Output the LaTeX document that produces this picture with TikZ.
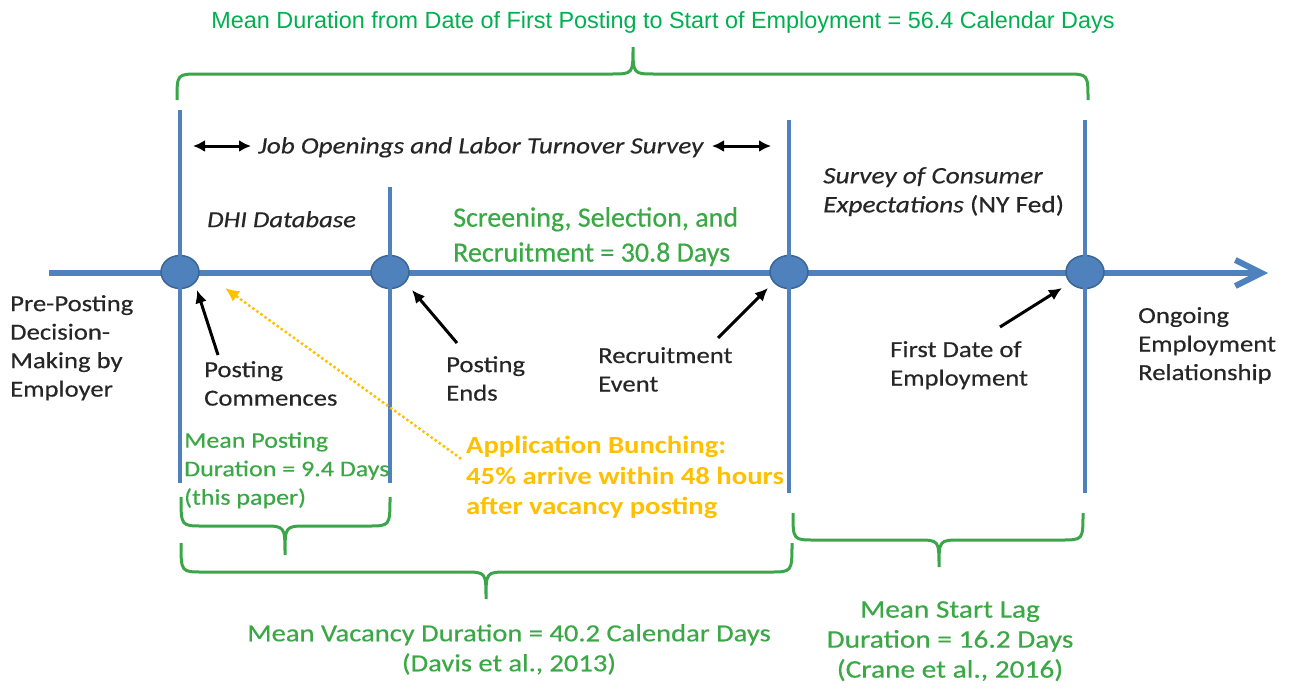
\documentclass[tikz,border=0pt]{standalone}
\usepackage{fontspec}
\setmainfont{Carlito}[FakeStretch=1.16,UprightFeatures={FakeBold=0.35},ItalicFeatures={FakeBold=0.35}]
\newfontfamily\plainfont{Carlito}[UprightFeatures={FakeBold=0.35}]
\newfontfamily\titlefont{Liberation Sans}
\usetikzlibrary{arrows.meta,shapes.geometric}
\definecolor{tlblue}{HTML}{4F81BD}
\definecolor{tldark}{HTML}{3A6597}
\definecolor{ttlgreen}{HTML}{00B050}
\definecolor{gtext}{HTML}{3AA844}
\definecolor{bgreen}{HTML}{3BA54A}
\definecolor{gold}{HTML}{FFC000}
\definecolor{txtgray}{HTML}{262626}
\newcommand\fs[2]{\fontsize{#1}{#2}\selectfont}
\newcommand\gbrace[6]{\draw[brace] (#1,#4) .. controls (#1,#5) .. ({#1+22},#5) -- ({#3-22},#5) .. controls (#3,#5) .. (#3,#6) .. controls (#3,#5) .. ({#3+22},#5) -- ({#2-22},#5) .. controls (#2,#5) .. (#2,#4);}
\begin{document}
\begin{tikzpicture}[x=1pt,y=-1pt,
  blueline/.style={draw=tlblue,line width=6pt},
  vline/.style={draw=tlblue,line width=4pt},
  dot/.style={ellipse,minimum width=38pt,minimum height=33pt,inner sep=0,fill=tlblue,draw=tldark,line width=1.5pt},
  brace/.style={draw=bgreen,line width=3pt},
  lbl/.style={inner sep=0,anchor=north west,align=left,text=txtgray,font={\fs{23}{28.5}}},
  glbl/.style={lbl,text=gtext},
  blkarrow/.style={draw=black,line width=3pt,-{Latex[length=13pt,width=12pt]}},
  dblarrow/.style={draw=black,line width=3pt,{Latex[length=12pt,width=12pt]}-{Latex[length=12pt,width=12pt]}},
  yarrow/.style={draw=gold,line width=3.5pt,line cap=round,dash pattern=on 0pt off 5pt,-{Latex[length=14pt,width=13pt]}}]
\useasboundingbox[fill=white] (0,0) rectangle (1289,691);

% title and top brace
\node[inner sep=0,anchor=north,text=ttlgreen,font={\titlefont\fs{23.4}{27}}] (title) at (663,11) {Mean Duration from Date of First Posting to Start of Employment = 56.4 Calendar Days};
\gbrace{177}{1088}{633}{100}{74}{47}

% timeline
\draw[blueline,-{Straight Barb[length=26pt,width=26pt]}] (49,273) -- (1268,273);
\node[dot] (c1) at (180,272) {};
\node[dot] (c2) at (390,272) {};
\node[dot] (c3) at (789,272) {};
\node[dot] (c4) at (1085,272) {};
\draw[vline] (180,110) -- (180,483);
\draw[vline] (390,187) -- (390,483);
\draw[vline] (789,120) -- (789,493);
\draw[vline] (1085,120) -- (1085,493);

% JOLTS
\node[lbl,font={\fs{23.4}{28.5}\itshape}] (jolts) at (258,137) {Job Openings and Labor Turnover Survey};
\coordinate (jl1) at (193,146); \coordinate (jl2) at (251,146);
\coordinate (jr1) at (712,146); \coordinate (jr2) at (771,146);
\draw[dblarrow] (jl1) -- (jl2);
\draw[dblarrow] (jr1) -- (jr2);

\node[lbl,font={\fs{23}{28.5}\itshape}] (dhi) at (207,211) {DHI Database};
\node[glbl,font={\plainfont\fs{28}{35}}] (screen) at (453,207) {Screening, Selection, and\\Recruitment = 30.8 Days};
\node[lbl,font={\fs{23.6}{29}}] (sce) at (823,167) {\textit{Survey of Consumer}\\\textit{Expectations} (NY Fed)};

% labels below the line
\node[lbl] (pre) at (10,295) {Pre-Posting\\Decision-\\Making by\\Employer};
\node[lbl] (pc) at (204,361) {Posting\\Commences};
\node[lbl] (pe) at (446,356) {Posting\\Ends};
\node[lbl] (re) at (598,347) {Recruitment\\Event};
\node[lbl] (fd) at (890,341) {First Date of\\Employment};
\node[lbl] (og) at (1138,307) {Ongoing\\Employment\\Relationship};

\coordinate (pcT) at (218,355); \coordinate (pcH) at (197,290);
\coordinate (peT) at (457,343); \coordinate (peH) at (412,290);
\coordinate (reT) at (718,338); \coordinate (reH) at (768,288);
\coordinate (fdT) at (1000,327); \coordinate (fdH) at (1062,288);
\draw[blkarrow] (pcT) -- (pcH);
\draw[blkarrow] (peT) -- (peH);
\draw[blkarrow] (reT) -- (reH);
\draw[blkarrow] (fdT) -- (fdH);

\node[glbl,font={\fs{22.4}{28.5}}] (mp) at (184,432) {Mean Posting\\Duration = 9.4 Days\\(this paper)};

\node[lbl,text=gold,font={\fs{24.7}{30.5}\bfseries}] (ab) at (466,436) {Application Bunching:\\45\% arrive within 48 hours\\after vacancy posting};
\coordinate (abT) at (460,458); \coordinate (abH) at (225,288);
\draw[yarrow] (abT) -- (abH);

% lower braces
\gbrace{181}{390}{285}{497}{526}{555}
\gbrace{181}{792}{486}{543}{572}{599}
\gbrace{793}{1083}{939}{513}{540}{567}

\node[glbl,anchor=north,align=center,font={\fs{24.6}{30}}] (mv) at (509,624) {Mean Vacancy Duration = 40.2 Calendar Days\\(Davis et al., 2013)};
\node[glbl,anchor=north,align=center,font={\fs{25.3}{30}}] (ms) at (950,601) {Mean Start Lag\\Duration = 16.2 Days\\(Crane et al., 2016)};
\end{tikzpicture}
\end{document}
